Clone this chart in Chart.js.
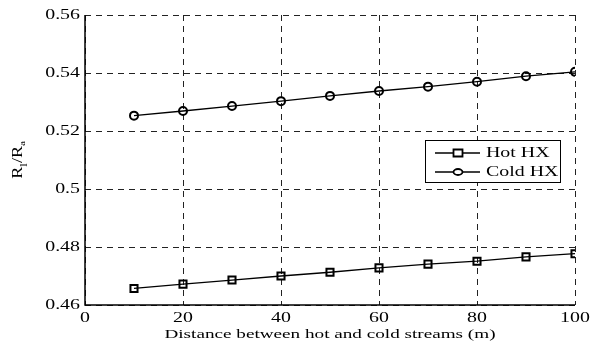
<!DOCTYPE html>
<html>
<head>
<meta charset="utf-8">
<script src="https://cdn.jsdelivr.net/npm/chart.js@4/dist/chart.umd.min.js"></script>
<style>
  html, body { margin: 0; padding: 0; background: #fff; }
  #wrap { width: 590px; height: 343px; }
</style>
</head>
<body>
<div id="wrap"><canvas id="chart" width="590" height="343"></canvas></div>
<script>
// distance between streams (m)
const distances = [10, 20, 30, 40, 50, 60, 70, 80, 90, 100];
const hotHX = [0.4657, 0.4672, 0.4686, 0.4700, 0.4713, 0.4728, 0.4741, 0.4751, 0.4766, 0.4777];
const coldHX = [0.5253, 0.5269, 0.5286, 0.5303, 0.5321, 0.5338, 0.5353, 0.5370, 0.5389, 0.5404];
const xTicks = [0, 20, 40, 60, 80, 100];
const yTicks = ['0.46', '0.48', '0.5', '0.52', '0.54', '0.56'];
const xTitle = 'Distance between hot and cold streams (m)';

const serif = '"Liberation Serif", "DejaVu Serif", serif';
// the original figure's text is a bit wider than it is tall
const STRETCH = 1.42;

// draw text squeezed/stretched along x, anchored by align
function wideText(ctx, text, x, y, size, align) {
    ctx.save();
    ctx.font = size + 'px ' + serif;
    ctx.textBaseline = 'middle';
    ctx.textAlign = 'left';
    const w = ctx.measureText(text).width * STRETCH;
    let x0 = x;
    if (align === 'center') x0 = x - w / 2;
    if (align === 'right') x0 = x - w;
    ctx.translate(x0, y);
    ctx.scale(STRETCH, 1);
    ctx.fillText(text, 0, 0);
    ctx.restore();
}

// tick labels and titles drawn in the figure's wide lettering
const textPlugin = {
    id: 'wideLabels',
    afterDraw(chart) {
        const ctx = chart.ctx;
        const a = chart.chartArea;
        const xs = chart.scales.x, ys = chart.scales.y;
        ctx.save();
        ctx.fillStyle = '#000';
        xTicks.forEach(v => wideText(ctx, String(v), xs.getPixelForValue(v), a.bottom + 13, 14, 'center'));
        yTicks.forEach(t => wideText(ctx, t, a.left - 5, ys.getPixelForValue(parseFloat(t)), 14, 'right'));
        wideText(ctx, xTitle, (a.left + a.right) / 2, a.bottom + 29, 13.5, 'center');

        // y title R_l / R_a, rotated
        ctx.translate(22, (a.top + a.bottom) / 2);
        ctx.rotate(-Math.PI / 2);
        ctx.textBaseline = 'alphabetic';
        const parts = [
            { t: 'R', size: 14, dy: 0 },
            { t: 'l', size: 10, dy: 5 },
            { t: '/R', size: 14, dy: 0 },
            { t: 'a', size: 8, dy: 3 }
        ];
        const s = 1.3;
        let total = 0;
        parts.forEach(p => { ctx.font = p.size + 'px ' + serif; total += ctx.measureText(p.t).width * s; });
        let x = -total / 2;
        parts.forEach(p => {
            ctx.font = p.size + 'px ' + serif;
            ctx.save();
            ctx.translate(x, p.dy);
            ctx.scale(s, 1);
            ctx.fillText(p.t, 0, 0);
            ctx.restore();
            x += ctx.measureText(p.t).width * s;
        });
        ctx.restore();
    }
};

// solid left and bottom axis lines over the dashed grid
const axisLinePlugin = {
    id: 'axisLines',
    afterDatasetsDraw(chart) {
        const ctx = chart.ctx;
        const a = chart.chartArea;
        ctx.save();
        ctx.strokeStyle = '#000';
        ctx.lineWidth = 1.5;
        ctx.beginPath();
        ctx.moveTo(a.left, a.top);
        ctx.lineTo(a.left, a.bottom);
        ctx.lineTo(a.right, a.bottom);
        ctx.stroke();
        ctx.restore();
    }
};

// boxed legend inside the plot, like the original figure
const boxLegendPlugin = {
    id: 'boxLegend',
    afterDraw(chart) {
        const ctx = chart.ctx;
        const left = 425, top = 140, w = 135, h = 42;
        ctx.save();
        ctx.fillStyle = '#fff';
        ctx.fillRect(left, top, w, h);
        ctx.strokeStyle = '#000';
        ctx.lineWidth = 1;
        ctx.strokeRect(left + 0.5, top + 0.5, w, h);
        chart.data.datasets.forEach((ds, i) => {
            const y = top + 13 + i * 19;
            ctx.strokeStyle = '#000';
            ctx.lineWidth = 1.3;
            ctx.beginPath();
            ctx.moveTo(left + 10, y);
            ctx.lineTo(left + 55, y);
            ctx.stroke();
            ctx.lineWidth = 1.8;
            ctx.beginPath();
            if (ds.pointStyle === 'rect') {
                ctx.rect(left + 28.5, y - 3.5, 9, 7);
            } else {
                ctx.ellipse(left + 33, y, 4.5, 3, 0, 0, Math.PI * 2);
            }
            ctx.fillStyle = '#fff';
            ctx.fill();
            ctx.stroke();
            ctx.fillStyle = '#000';
            wideText(ctx, ds.label, left + 61, y, 14, 'left');
        });
        ctx.restore();
    }
};

new Chart(document.getElementById('chart').getContext('2d'), {
    type: 'line',
    data: {
        labels: distances,
        datasets: [{
            label: 'Hot HX',
            data: hotHX,
            borderColor: '#000',
            backgroundColor: '#fff',
            borderWidth: 1.3,
            pointStyle: 'rect',
            pointRadius: 5,
            pointBorderWidth: 2,
            pointBorderColor: '#000',
            pointBackgroundColor: 'rgba(255,255,255,0)',
            fill: false
        },
        {
            label: 'Cold HX',
            data: coldHX,
            borderColor: '#000',
            backgroundColor: '#fff',
            borderWidth: 1.3,
            pointStyle: 'circle',
            pointRadius: 4,
            pointBorderWidth: 2,
            pointBorderColor: '#000',
            pointBackgroundColor: 'rgba(255,255,255,0)',
            fill: false
        }]
    },
    options: {
        responsive: false,
        animation: false,
        layout: { padding: { top: 15, right: 15, left: 0, bottom: 0 } },
        plugins: {
            legend: { display: false },
            tooltip: { enabled: false }
        },
        scales: {
            x: {
                type: 'linear',
                min: 0,
                max: 100,
                afterBuildTicks: scale => { scale.ticks = xTicks.map(v => ({ value: v })); },
                afterFit: scale => { scale.height = 38; },
                ticks: { display: false },
                grid: {
                    color: '#222',
                    lineWidth: 1,
                    drawTicks: false
                },
                border: { display: false, dash: [6, 5] }
            },
            y: {
                min: 0.46,
                max: 0.56,
                afterBuildTicks: scale => { scale.ticks = yTicks.map(t => ({ value: parseFloat(t) })); },
                afterFit: scale => { scale.width = 85; },
                ticks: { display: false },
                grid: {
                    color: '#222',
                    lineWidth: 1,
                    drawTicks: false
                },
                border: { display: false, dash: [6, 5] }
            }
        }
    },
    plugins: [textPlugin, axisLinePlugin, boxLegendPlugin]
});
</script>
</body>
</html>
